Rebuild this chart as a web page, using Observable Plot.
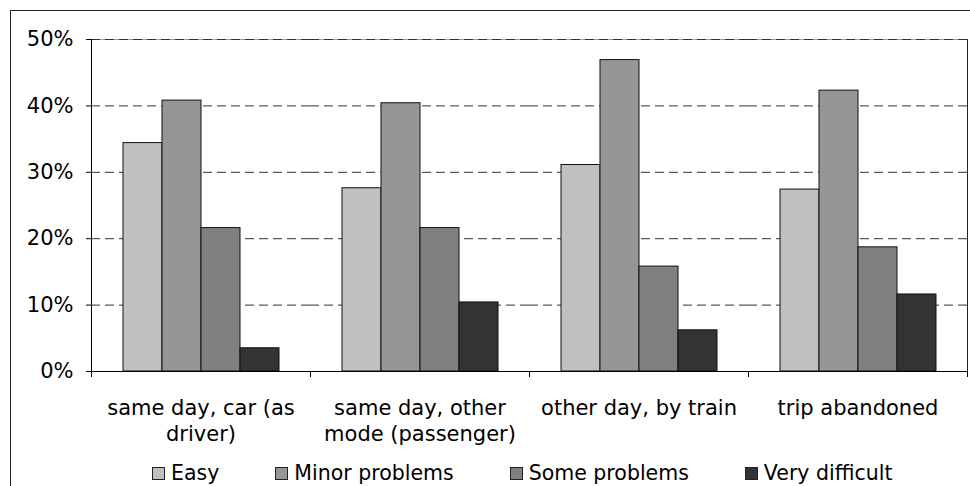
<!DOCTYPE html>
<html>
<head>
<meta charset="utf-8">
<script src="https://cdn.jsdelivr.net/npm/d3@7"></script>
<script src="https://cdn.jsdelivr.net/npm/@observablehq/plot@0.6"></script>
<style>
  html, body { margin: 0; padding: 0; background: #fff; }
  #wrap { position: relative; width: 970px; height: 486px; overflow: hidden; font-family: "DejaVu Sans", sans-serif; }
  #outer { position: absolute; left: 10px; top: 10px; width: 1200px; height: 1200px; border: 1px solid #222; box-sizing: border-box; }
  #chart { position: absolute; left: 0; top: 0; }
  #legend { position: absolute; left: 152px; top: 463px; display: flex; align-items: center; font-size: 20.5px; line-height: 20px; color: #000; white-space: nowrap; }
  .item { display: flex; align-items: center; margin-right: 56px; }
  .sw { width: 11px; height: 11px; border: 1px solid #222; margin-right: 6px; }
</style>
</head>
<body>
<div id="wrap">
  <div id="outer"></div>
  <div id="chart"></div>
  <div id="legend"></div>
</div>
<script>
const categories = ["same day, car (as driver)", "same day, other mode (passenger)", "other day, by train", "trip abandoned"];
const tickLabels = ["same day, car (as\ndriver)", "same day, other\nmode (passenger)", "other day, by train", "trip abandoned"];
const series = ["Easy", "Minor problems", "Some problems", "Very difficult"];
const easy = [34.4, 27.6, 31.1, 27.4];
const minorProblems = [40.8, 40.4, 46.9, 42.3];
const someProblems = [21.6, 21.6, 15.8, 18.7];
const veryDifficult = [3.5, 10.4, 6.2, 11.6];
const yTicks = [0, 10, 20, 30, 40, 50];
const gridValues = [10, 20, 30, 40, 50];
const seriesColors = ["#c0c0c0", "#969696", "#808080", "#333333"];

const valuesBySeries = [easy, minorProblems, someProblems, veryDifficult];
const data = [];
categories.forEach((c, i) => {
  series.forEach((s, j) => {
    data.push({category: c, series: s, value: valuesBySeries[j][i]});
  });
});
const labelOf = new Map(categories.map((c, i) => [c, tickLabels[i]]));

// boundary ticks below the category axis (drawn in every facet at its edges)
function boundaryTicks(index, scales, values, dimensions) {
  const {marginLeft, marginRight, width} = dimensions;
  const y0 = scales.y(0);
  const g = d3.create("svg:g").attr("stroke", "#000").attr("stroke-width", 1);
  for (const x of [marginLeft, width - marginRight]) {
    g.append("line").attr("x1", x + 0.5).attr("x2", x + 0.5).attr("y1", y0).attr("y2", y0 + 6);
  }
  return g.node();
}

const chart = Plot.plot({
  width: 970,
  height: 460,
  marginTop: 39,
  marginBottom: 89,
  marginLeft: 90,
  marginRight: 3,
  style: {fontFamily: "DejaVu Sans, sans-serif", fontSize: "21px", color: "#000", background: "transparent", overflow: "visible"},
  fx: {domain: categories, padding: 0, label: null},
  x: {domain: series, paddingInner: 0, paddingOuter: 0.74, axis: null},
  y: {domain: [0, 50], label: null},
  color: {domain: series, range: seriesColors},
  marks: [
    Plot.frame({facet: "super", anchor: "top", stroke: "#999"}),
    Plot.ruleY(gridValues, {stroke: "#333", strokeDasharray: "9,5"}),
    Plot.barY(data, {fx: "category", x: "series", y: "value", fill: "series", stroke: "#111", strokeWidth: 1}),
    Plot.ruleY([0], {stroke: "#000"}),
    Plot.frame({facet: "super", anchor: "left", stroke: "#000"}),
    Plot.frame({facet: "super", anchor: "right", stroke: "#222"}),
    Plot.axisY({ticks: yTicks, tickSize: 5, tickPadding: 13, fontSize: 21, tickFormat: d => d + "%", label: null}),
    Plot.axisFx({anchor: "bottom", tickSize: 0, tickPadding: 24, fontSize: 21, lineHeight: 1.28, tickFormat: d => labelOf.get(d), label: null}),
    boundaryTicks
  ]
});
document.getElementById("chart").appendChild(chart);

const legend = document.getElementById("legend");
series.forEach((s, j) => {
  const item = document.createElement("div");
  item.className = "item";
  const sw = document.createElement("div");
  sw.className = "sw";
  sw.style.background = seriesColors[j];
  const t = document.createElement("span");
  t.textContent = s;
  item.appendChild(sw);
  item.appendChild(t);
  legend.appendChild(item);
});
</script>
</body>
</html>
